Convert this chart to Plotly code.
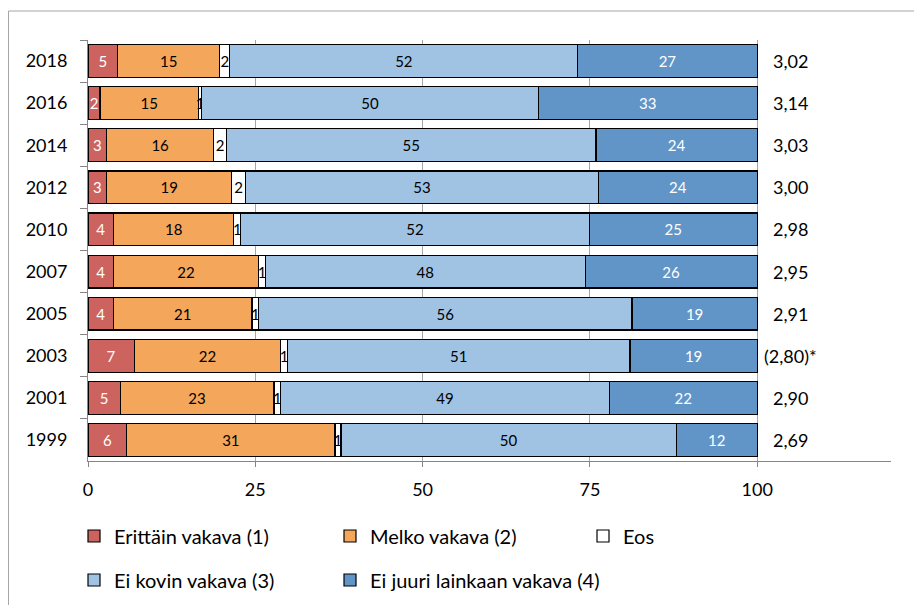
import plotly.graph_objects as go

years = ["2018", "2016", "2014", "2012", "2010", "2007", "2005", "2003", "2001", "1999"]

# estimated bar widths (%)
erittain = [4.4, 1.8, 2.8, 2.8, 3.8, 3.8, 3.8, 6.9, 4.8, 5.8]
melko = [15.3, 14.7, 16.0, 18.7, 18.0, 21.7, 20.7, 21.9, 23.0, 31.1]
eos = [1.5, 0.5, 1.9, 2.0, 1.0, 1.0, 1.0, 1.0, 1.0, 0.9]
kovin = [52.0, 50.3, 55.2, 52.8, 52.1, 47.8, 55.8, 51.2, 49.1, 50.1]
juuri = [26.8, 32.7, 24.1, 23.7, 25.1, 25.7, 18.7, 19.0, 22.1, 12.1]

# printed data labels
erittain_lbl = [5, 2, 3, 3, 4, 4, 4, 7, 5, 6]
melko_lbl = [15, 15, 16, 19, 18, 22, 21, 22, 23, 31]
eos_lbl = [2, 1, 2, 2, 1, 1, 1, 1, 1, 1]
kovin_lbl = [52, 50, 55, 53, 52, 48, 56, 51, 49, 50]
juuri_lbl = [27, 33, 24, 24, 25, 26, 19, 19, 22, 12]

mean_labels = ["3,02", "3,14", "3,03", "3,00", "2,98", "2,95", "2,91", "(2,80)*", "2,90", "2,69"]

series_names = ["Erittäin vakava (1)", "Melko vakava (2)", "Eos",
                "Ei kovin vakava (3)", "Ei juuri lainkaan vakava (4)"]
tick_vals = [0, 25, 50, 75, 100]

FONT = "Lato"
series = [
    (erittain, erittain_lbl, "#CD635E", "white"),
    (melko, melko_lbl, "#F4A65A", "black"),
    (eos, eos_lbl, "#FFFFFF", "black"),
    (kovin, kovin_lbl, "#A0C3E4", "black"),
    (juuri, juuri_lbl, "#6195C7", "white"),
]

# page has an 8px body margin; positions below are in page pixels
OFF = 8
W, H = 922 - OFF, 605 - OFF
L, R, T, B = 88 - OFF, 891 - OFF, 40 - OFF, 461 - OFF
def px_x(p):
    return (p - OFF - L) / (R - L)
def px_y(p):
    return (B - (p - OFF)) / (B - T)
def cx(p):
    return (p - OFF) / W
def cy(p):
    return 1 - (p - OFF) / H

legend_box_x = [74, 330, 583, 74, 330]
legend_y = [536, 536, 536, 580, 580]

fig = go.Figure()
for i, ((vals, lbls, col, tcol), name) in enumerate(zip(series, series_names)):
    lg = "legend" if i == 0 else f"legend{i+1}"
    fig.add_trace(go.Bar(
        y=years, x=vals, orientation="h", name=name,
        marker=dict(color=col, line=dict(color="black", width=1.2)),
        text=[str(v) for v in lbls],
        textposition="inside", insidetextanchor="middle", textangle=0,
        constraintext="none",
        textfont=dict(family=FONT, size=15, color=tcol),
        hoverinfo="skip", legend=lg,
    ))

for idx, lab in enumerate(mean_labels):
    fig.add_annotation(x=105.0, y=idx, text=lab, showarrow=False,
                       xanchor="center", yanchor="middle",
                       font=dict(family=FONT, size=18, color="black"))

# outer chart frame
fig.add_shape(type="rect", xref="paper", yref="paper",
              x0=px_x(OFF + 0.5), x1=px_x(930), y0=px_y(620), y1=px_y(11),
              line=dict(color="#A6A6A6", width=1), fillcolor="rgba(0,0,0,0)", layer="below")

layout_legends = {}
for i in range(5):
    key = "legend" if i == 0 else f"legend{i+1}"
    layout_legends[key] = dict(
        x=cx(legend_box_x[i]), y=cy(legend_y[i]),
        xref="container", yref="container",
        xanchor="left", yanchor="middle", orientation="h",
        font=dict(family=FONT, size=20, color="black"),
        bgcolor="rgba(0,0,0,0)", borderwidth=0, itemclick=False,
    )

fig.update_layout(
    width=W, height=H,
    margin=dict(l=L, r=W - R, t=T, b=H - B, pad=0, autoexpand=False),
    barmode="stack", bargap=0.22,
    plot_bgcolor="white", paper_bgcolor="white",
    font=dict(family=FONT, size=18, color="black"),
    uniformtext=dict(mode="show", minsize=15),
    showlegend=True,
    xaxis=dict(range=[0, 120], tickvals=tick_vals, ticktext=[str(v) for v in tick_vals],
               showgrid=True, gridcolor="#A6A6A6", gridwidth=1,
               showline=True, linecolor="#868686", linewidth=1,
               ticks="outside", ticklen=5, tickcolor="#868686",
               ticklabelstandoff=7, zeroline=False,
               tickfont=dict(family=FONT, size=18)),
    yaxis=dict(type="category", categoryorder="array", categoryarray=years,
               range=[len(years) - 0.5, -0.5], autorange=False, showgrid=False,
               showline=True, linecolor="#868686", linewidth=1,
               ticks="outside", ticklen=7, tickcolor="#868686",
               tickson="boundaries", ticklabelstandoff=16,
               tickfont=dict(family=FONT, size=18)),
    **layout_legends,
)

fig.write_html("out.html")
